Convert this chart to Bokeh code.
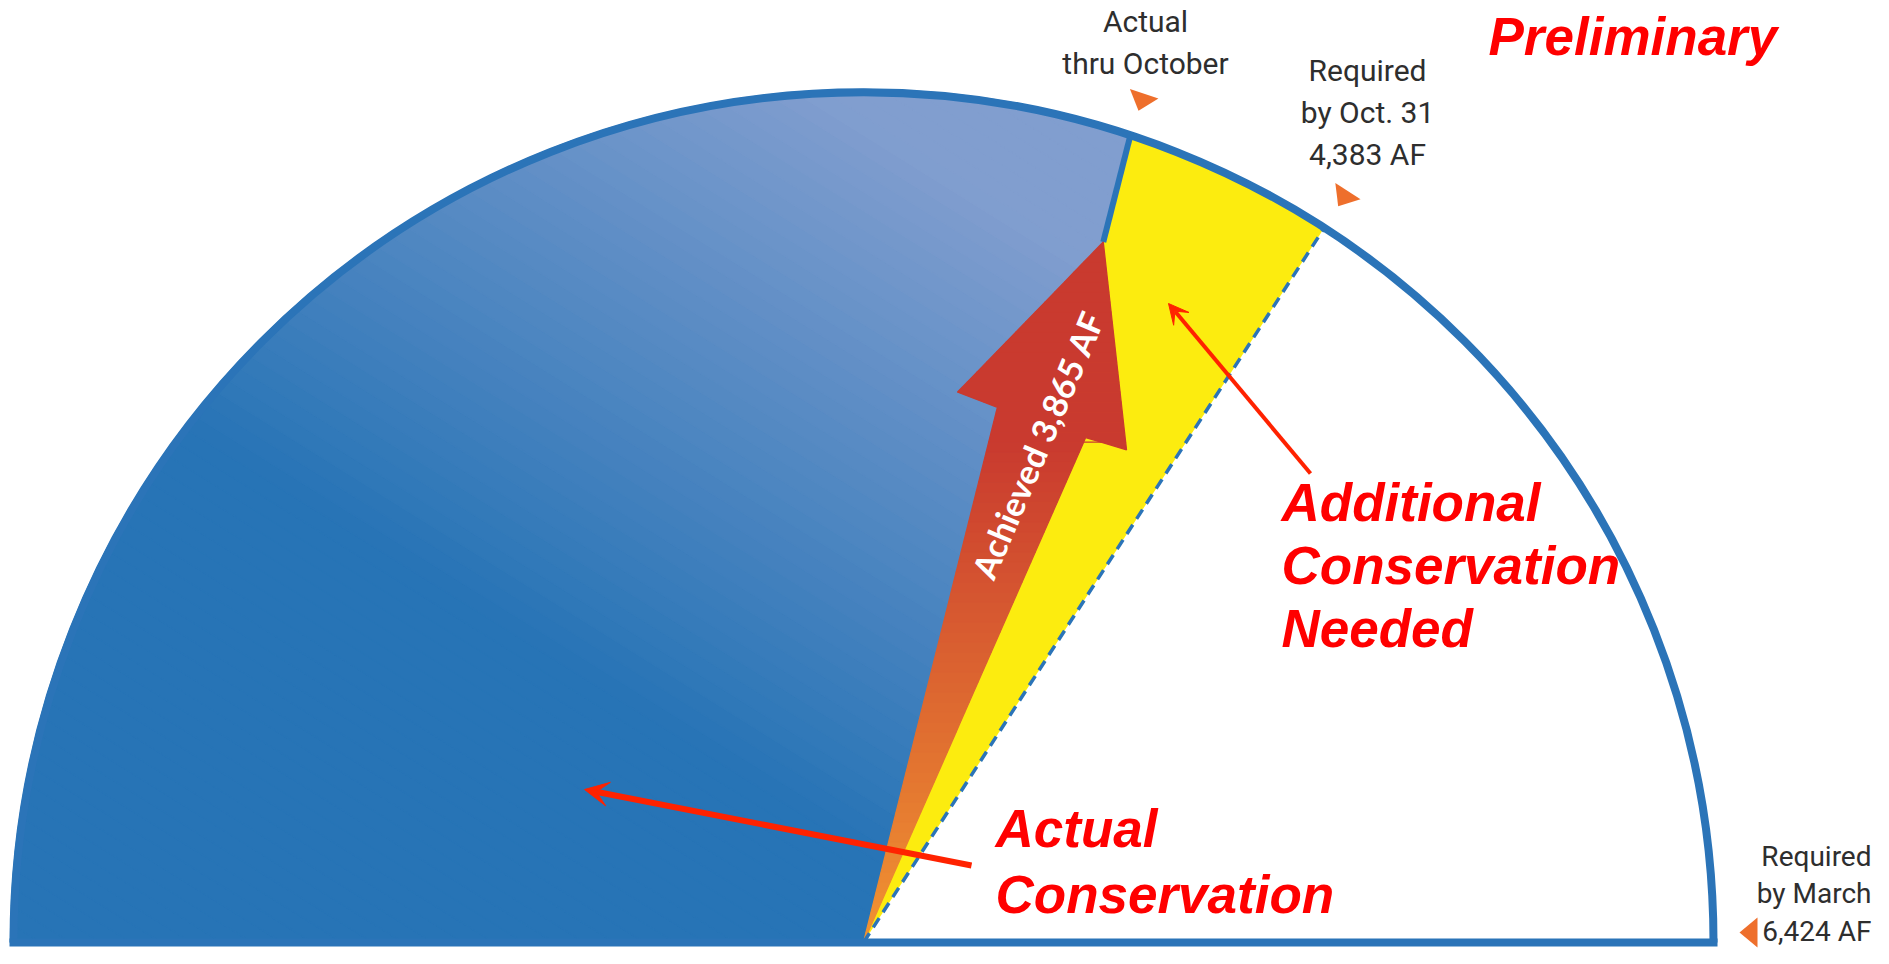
import math
import numpy as np
from bokeh.plotting import figure
from bokeh.models import Range1d, Arrow, VeeHead
from bokeh.core.properties import value
from bokeh.embed import file_html
from bokeh.resources import INLINE

# ---------------- data ----------------
categories = ["Actual thru October", "Required by Oct. 31", "Required by March"]
values_af = [3865, 4383, 6424]
total_af = 6424
label_lines = [["Actual", "thru October"],
               ["Required", "by Oct. 31", "4,383 AF"],
               ["Required", "by March", "6,424 AF"]]
achieved_label = "Achieved 3,865 AF"
title_text = "Preliminary"
needed_lines = ["Additional", "Conservation", "Needed"]
actual_lines = ["Actual", "Conservation"]

# ---------------- layout ----------------
W, H = 1873, 948
cx, cy, R = 863.0, 22.0, 850.0
BLUE = "#2b74b8"
YELLOW = "#fcec0f"
RED = "#ff0000"
ARROW_RED = "#ff2200"
GRAY = "#2e2e2e"
BASE_K = 0.4  # raise applied to alphabetic baselines (fraction of font size)

def ang(v):
    return math.pi * (1.0 - v / total_af)

th_a = ang(values_af[0])
th_r = ang(values_af[1])

def pol(theta, r):
    return (cx + r * math.cos(theta), cy + r * math.sin(theta))

def arc_pts(t0, t1, r, n=240):
    ts = np.linspace(t0, t1, n)
    return [(cx + r * math.cos(t), cy + r * math.sin(t)) for t in ts]

def hexrgb(h):
    h = h.lstrip("#")
    return tuple(int(h[i:i + 2], 16) for i in (0, 2, 4))

def mix(c0, c1, t):
    t = min(max(t, 0.0), 1.0)
    a, b = hexrgb(c0), hexrgb(c1)
    return "#%02x%02x%02x" % tuple(int(round(a[i] + (b[i] - a[i]) * t)) for i in range(3))

def clip(poly, d, c, ge=True):
    out = []
    n = len(poly)
    for i in range(n):
        P, Q = poly[i], poly[(i + 1) % n]
        fp = P[0] * d[0] + P[1] * d[1] - c
        fq = Q[0] * d[0] + Q[1] * d[1] - c
        if not ge:
            fp, fq = -fp, -fq
        if fp >= 0:
            out.append(P)
        if (fp >= 0) != (fq >= 0):
            t = fp / (fp - fq)
            out.append((P[0] + t * (Q[0] - P[0]), P[1] + t * (Q[1] - P[1])))
    return out

def gradient_patches(p, poly, d, p0, p1, c0, c1, n=70):
    proj = [q[0] * d[0] + q[1] * d[1] for q in poly]
    lo, hi = min(proj), max(proj)
    step = (hi - lo) / n
    xs, ys, cols = [], [], []
    for k in range(n):
        a = lo + k * step
        b = a + step
        s = clip(clip(poly, d, a, True), d, b, False)
        if len(s) < 3:
            continue
        xs.append([q[0] for q in s])
        ys.append([q[1] for q in s])
        mid = 0.5 * (a + b)
        cols.append(mix(c0, c1, (mid - p0) / (p1 - p0)))
    p.patches(xs, ys, fill_color=cols, line_color=cols, line_width=1.3)

def put_text(p, x, y, s, fs, align, color, font, style="normal"):
    p.text(x=[x], y=[y + BASE_K * fs], text=[s], text_align=align, text_baseline="alphabetic",
           text_color=color, text_font=font, text_font_size="%dpx" % fs, text_font_style=style)

p = figure(width=W, height=H, x_range=Range1d(0, W), y_range=Range1d(16, 16 + H),
           output_backend="svg", toolbar_location=None, min_border=0)
p.axis.visible = False
p.grid.visible = False
p.outline_line_color = None
p.background_fill_color = "white"
p.border_fill_color = "white"

# white semicircle background
p.wedge(x=cx, y=cy, radius=R, start_angle=0, end_angle=math.pi, fill_color="white", line_color=None)

# yellow: remaining required by Oct. 31
p.wedge(x=cx, y=cy, radius=R, start_angle=th_r, end_angle=th_a, fill_color=YELLOW, line_color=None)

# arrow geometry (derived from achieved angle)
axis_t = th_a - math.radians(0.6)
tip = pol(axis_t, 0.871 * R)
shaft_l = pol(axis_t + math.radians(4.85), 0.649 * R)
shaft_r = pol(axis_t - math.radians(4.85), 0.649 * R)
head_l = pol(axis_t + math.radians(9.2), 0.657 * R)
head_r = pol(axis_t - math.radians(9.2), 0.657 * R)

# blue actual conservation region with gradient
blue_poly = [(cx, cy)] + arc_pts(math.pi, th_a, R + 3) + [tip]
ga = math.radians(32)
dvec = (math.sin(ga), math.cos(ga))
pc = cx * dvec[0] + cy * dvec[1]
gradient_patches(p, blue_poly, dvec, pc + 80, pc + 700, "#2774b6", "#819ecf", n=80)

# blue edge from arc to arrow tip
ea = pol(th_a, R)
p.line([ea[0], tip[0]], [ea[1], tip[1]], line_color=BLUE, line_width=6)

# arrow with vertical gradient
arrow_poly = [(cx, cy), shaft_l, head_l, tip, head_r, shaft_r]
gradient_patches(p, arrow_poly, (0.0, 1.0), cy + 10, cy + 500, "#f09231", "#c93a2f", n=70)

# dashed line at required by Oct. 31
er = pol(th_r, R)
p.line([cx, er[0]], [cy, er[1]], line_color=BLUE, line_width=3.5, line_dash="11 7")

# outline
p.arc(x=cx, y=cy, radius=R, start_angle=0, end_angle=math.pi, line_color=BLUE, line_width=8)
p.line([cx - R - 4, cx + R + 4], [cy, cy], line_color=BLUE, line_width=8, line_cap="butt")

# achieved text
p.text(x=[1037], y=[520], text=[achieved_label], angle=math.radians(67), text_align="center",
       text_baseline="middle", text_color="white", text_font=value("Lato"),
       text_font_size="34px", text_font_style="bold")

# pointer triangles at each value
tri_shift = [0, 0, 10]
tx, ty = [], []
for v, sh in zip(values_af, tri_shift):
    t = ang(v)
    u = (math.cos(t), math.sin(t))
    w = (-math.sin(t), math.cos(t))
    tp = (cx + (R + 26) * u[0], cy + (R + 26) * u[1] + sh)
    b1 = (cx + (R + 44) * u[0] + 15 * w[0], cy + (R + 44) * u[1] + 15 * w[1] + sh)
    b2 = (cx + (R + 44) * u[0] - 15 * w[0], cy + (R + 44) * u[1] - 15 * w[1] + sh)
    tx.append([tp[0], b1[0], b2[0]])
    ty.append([tp[1], b1[1], b2[1]])
p.patches(tx, ty, fill_color="#ee6f2c", line_color=None)

# gray labels
label_x = [1145, 1367, 1871]
label_align = ["center", "center", "right"]
label_top = [931, 882, 97]
label_gap = [42, 42, 37.5]
label_fs = [30, 30, 28]
gray_font = value("Roboto")
for lines, lx, la, ly, lg, fs in zip(label_lines, label_x, label_align, label_top, label_gap, label_fs):
    for i, s in enumerate(lines):
        put_text(p, lx, ly - i * lg, s, fs, la, GRAY, gray_font)

# red annotations
red_font = value("Liberation Sans")
put_text(p, 1488, 907, title_text, 53, "left", RED, red_font, "bold italic")
for i, s in enumerate(needed_lines):
    put_text(p, 1281, 441 - i * 63, s, 53, "left", RED, red_font, "bold italic")
for i, s in enumerate(actual_lines):
    put_text(p, 995, 115 - i * 66, s, 53, "left", RED, red_font, "bold italic")

p.add_layout(Arrow(x_start=971, y_start=99, x_end=584, y_end=175, line_color=ARROW_RED, line_width=6,
                   end=VeeHead(size=24, fill_color=ARROW_RED, line_color=ARROW_RED, line_width=1)))
p.add_layout(Arrow(x_start=1310, y_start=491, x_end=1168, y_end=661, line_color=ARROW_RED, line_width=4,
                   end=VeeHead(size=20, fill_color=ARROW_RED, line_color=ARROW_RED, line_width=1)))

open("out.html", "w").write(file_html(p, INLINE))
